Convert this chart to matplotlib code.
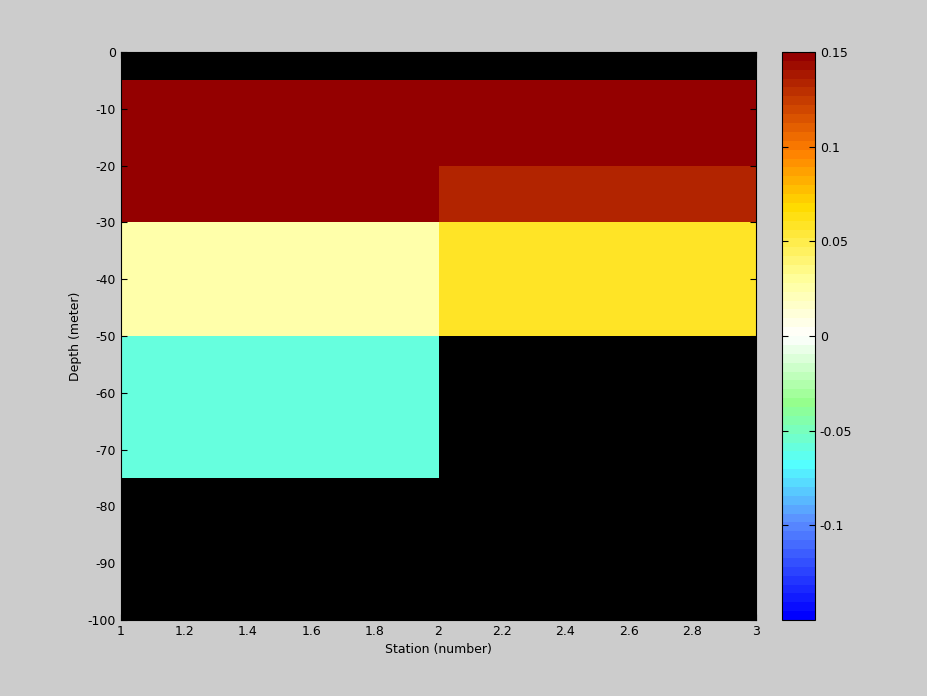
import numpy as np
import matplotlib
matplotlib.use("Agg")
import matplotlib.pyplot as plt
from matplotlib.colors import LinearSegmentedColormap

plt.rcParams["axes.unicode_minus"] = False

# Grid edges
station_edges = [1, 2, 3]
depth_edges = [0, -5, -20, -30, -50, -75, -100]

# Cell values (rows follow depth_edges, columns follow station_edges); NaN = no data
station1 = [np.nan, 0.15, 0.15, 0.025, -0.058, np.nan]
station2 = [np.nan, 0.15, 0.135, 0.058, np.nan, np.nan]

cbar_ticks = [-0.1, -0.05, 0, 0.05, 0.1, 0.15]

# Colormap approximating the reference (blue -> cyan -> green -> white -> yellow -> orange -> dark red)
anchors = [
    (0.00, (0.00, 0.00, 1.00)),
    (0.17, (0.36, 0.56, 1.00)),
    (0.27, (0.33, 1.00, 1.00)),
    (0.38, (0.58, 1.00, 0.55)),
    (0.50, (1.00, 1.00, 1.00)),
    (0.60, (1.00, 1.00, 0.62)),
    (0.73, (1.00, 0.86, 0.00)),
    (0.83, (1.00, 0.50, 0.00)),
    (1.00, (0.58, 0.00, 0.00)),
]
cmap = LinearSegmentedColormap.from_list("octave_div", anchors, N=64)

values = np.ma.masked_invalid(np.array([station1, station2]).T)

fig = plt.figure(figsize=(9.28, 6.96), dpi=100, facecolor="#cccccc")
ax = fig.add_axes([121 / 928, 1 - 620 / 696, 635 / 928, 568 / 696])
ax.set_facecolor("black")

mesh = ax.pcolormesh(station_edges, depth_edges, values, cmap=cmap, vmin=-0.15, vmax=0.15)
ax.set_xlim(1, 3)
ax.set_ylim(-100, 0)
ax.set_xticks(np.arange(1, 3.01, 0.2))
ax.set_xticklabels(["1", "1.2", "1.4", "1.6", "1.8", "2", "2.2", "2.4", "2.6", "2.8", "3"])
ax.set_yticks(np.arange(-100, 1, 10))
ax.tick_params(direction="in", top=True, right=True, labelsize=9, length=4, color="black")
ax.set_xlabel("Station (number)", fontsize=9, labelpad=4)
ax.set_ylabel("Depth (meter)", fontsize=9, labelpad=4)

cax = fig.add_axes([782 / 928, 1 - 620 / 696, 33 / 928, 568 / 696])
cb = fig.colorbar(mesh, cax=cax, ticks=cbar_ticks)
cb.ax.set_yticklabels(["-0.1", "-0.05", "0", "0.05", "0.1", "0.15"])
cb.ax.tick_params(direction="in", left=True, right=True, labelsize=9, length=4)

fig.savefig("out.png", dpi=100, facecolor=fig.get_facecolor())
